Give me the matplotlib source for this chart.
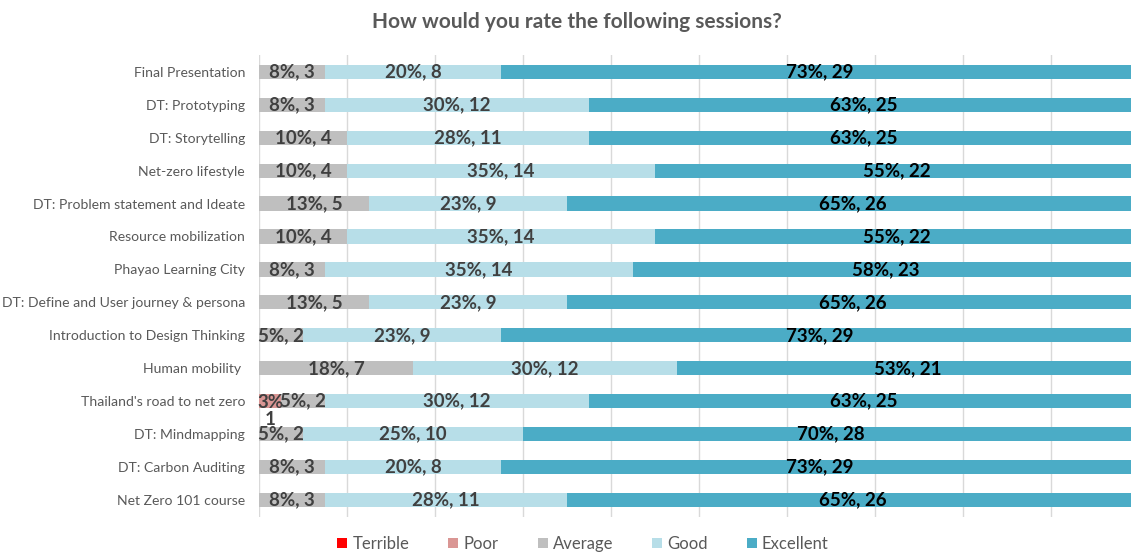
import matplotlib
matplotlib.use("Agg")
import matplotlib.pyplot as plt
import numpy as np

plt.rcParams['font.family'] = ['Lato', 'DejaVu Sans']

# survey data (counts of responses per rating)
sessions = ["Final Presentation", "DT: Prototyping", "DT: Storytelling", "Net-zero lifestyle",
            "DT: Problem statement and Ideate", "Resource mobilization", "Phayao Learning City",
            "DT: Define and User journey & persona", "Introduction to Design Thinking",
            "Human mobility ", "Thailand's road to net zero", "DT: Mindmapping",
            "DT: Carbon Auditing", "Net Zero 101 course"]
terrible = [0, 0, 0, 0, 0, 0, 0, 0, 0, 0, 0, 0, 0, 0]
poor = [0, 0, 0, 0, 0, 0, 0, 0, 0, 0, 1, 0, 0, 0]
average = [3, 3, 4, 4, 5, 4, 3, 5, 2, 7, 2, 2, 3, 3]
good = [8, 12, 11, 14, 9, 14, 14, 9, 9, 12, 12, 10, 8, 11]
excellent = [29, 25, 25, 22, 26, 22, 23, 26, 29, 21, 25, 28, 29, 26]

ratings = ["Terrible", "Poor", "Average", "Good", "Excellent"]
colors = ["#FF0000", "#DA9694", "#BFBFBF", "#B7DEE8", "#4BACC6"]
label_colors = ["#404040", "#404040", "#404040", "#404040", "#000000"]
series = [terrible, poor, average, good, excellent]

fig = plt.figure(figsize=(11.31, 5.53), dpi=100)
ax = fig.add_axes([259/1131, 0.066, 1 - 259/1131, 0.834])

y = np.arange(len(sessions))
totals = np.sum(series, axis=0)
left = np.zeros(len(sessions))
for name, vals, col, lcol in zip(ratings, series, colors, label_colors):
    vals = np.array(vals)
    ax.barh(y, vals, left=left, height=0.43, color=col, label=name, zorder=2)
    for i, v in enumerate(vals):
        if v == 0:
            continue
        # round half up like Excel
        pct = (200 * int(v) + int(totals[i])) // (2 * int(totals[i]))
        cx = left[i] + v / 2
        if name == "Poor":
            ax.annotate(f"{pct}%\n{v}", (cx, y[i]), xytext=(0, -7), textcoords='offset points',
                        ha='center', va='center', fontsize=13.5, fontweight='bold', color=lcol,
                        linespacing=0.95, zorder=4)
        else:
            ax.text(cx, y[i], f"{pct}%, {v}", ha='center', va='center', fontsize=13.5,
                    fontweight='bold', color=lcol, zorder=3)
    left += vals

ax.set_xlim(0, (1131 - 259) / 22)
ax.set_ylim(len(sessions) - 0.5, -0.5)
ax.set_xticks(np.arange(0, 40, 4))
ax.set_xticklabels([])
ax.set_yticks(y)
ax.set_yticklabels(sessions, fontsize=10.1, color="#595959")
ax.tick_params(axis='both', length=0)
ax.tick_params(axis='y', pad=10)
ax.grid(axis='x', color="#D9D9D9", linewidth=1, zorder=0)
for s in ax.spines.values():
    s.set_visible(False)

fig.text(577/1131, 1 - 22/553, "How would you rate the following sessions?", ha='center', va='center',
         fontsize=15, fontweight='bold', color="#595959")

handles, labels = ax.get_legend_handles_labels()
fig.legend(handles, labels, loc='center', bbox_to_anchor=(583/1131, 1 - 544/553), ncol=5,
           frameon=False, fontsize=12, labelcolor="#595959", handlelength=0.6, handleheight=0.6,
           handletextpad=0.3, columnspacing=2.35)

fig.savefig("out.png", dpi=100)
